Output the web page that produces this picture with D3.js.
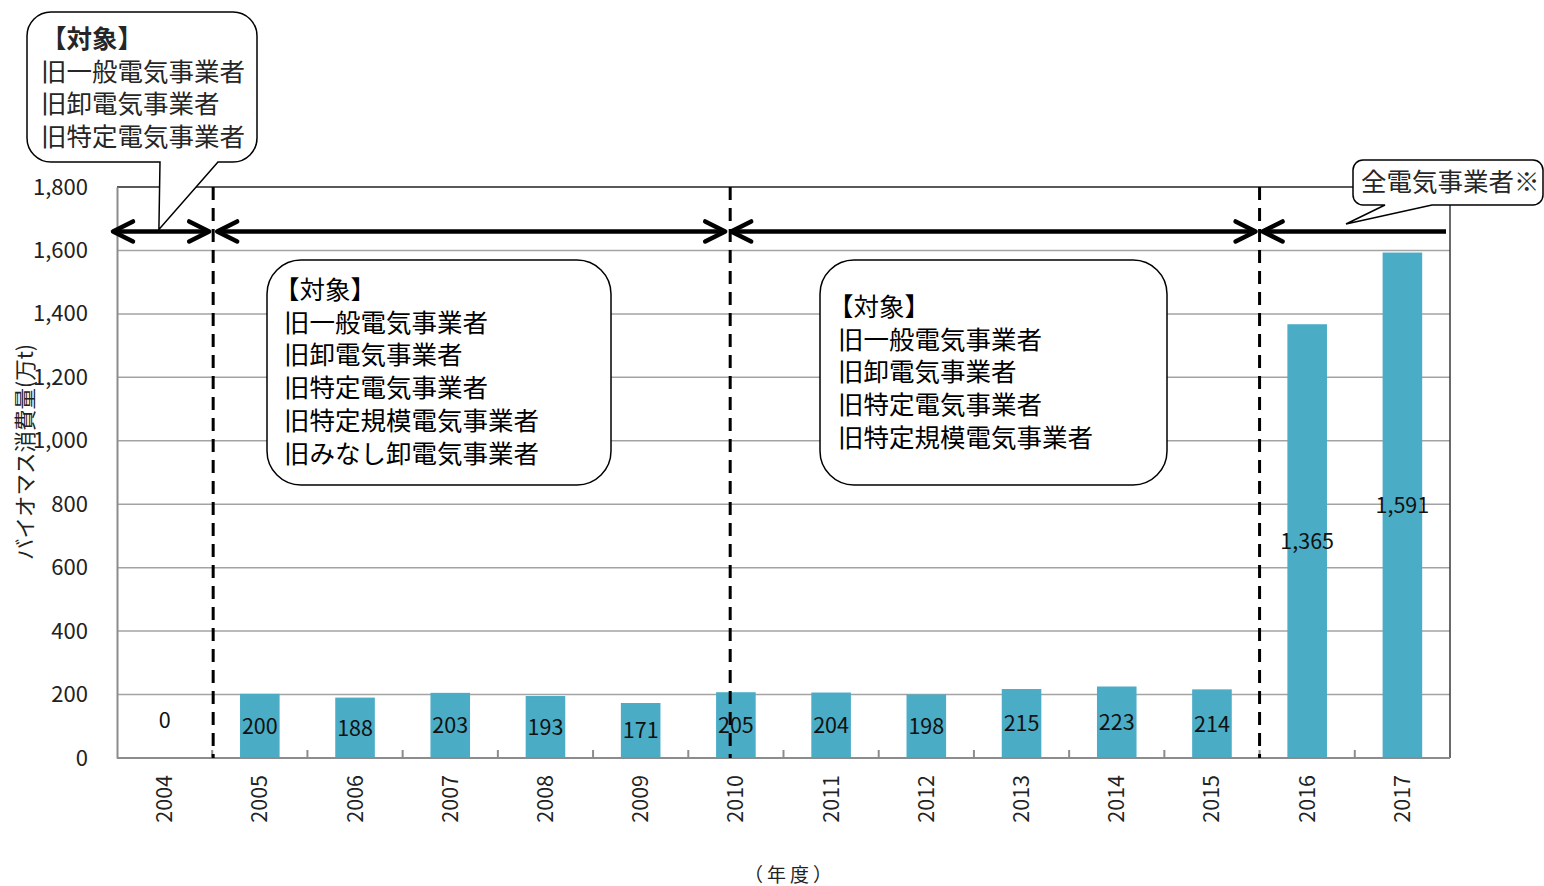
<!DOCTYPE html>
<html lang="ja">
<head>
<meta charset="utf-8">
<script src="https://cdn.jsdelivr.net/npm/d3@7/dist/d3.min.js"></script>
<style>
  html, body { margin: 0; padding: 0; background: #fff; }
  svg { display: block; font-family: "Noto Sans CJK JP", "Noto Sans", sans-serif; }
</style>
</head>
<body>
<svg id="chart" width="1544" height="886"></svg>
<script>
// ---- data ----
const years = ["2004","2005","2006","2007","2008","2009","2010","2011","2012","2013","2014","2015","2016","2017"];
const consumption = [0, 200, 188, 203, 193, 171, 205, 204, 198, 215, 223, 214, 1365, 1591];
const yTicks = [0, 200, 400, 600, 800, 1000, 1200, 1400, 1600, 1800];
const yTitle = "バイオマス消費量(万t)";
const xTitle = "（年度）";
// boundaries between reporting scopes, in category steps from the left edge of the plot
const periodBreaks = [1.01, 6.44, 12.0];
const scopeA = ["【対象】", "旧一般電気事業者", "旧卸電気事業者", "旧特定電気事業者"];
const scopeB = ["【対象】", "旧一般電気事業者", "旧卸電気事業者", "旧特定電気事業者", "旧特定規模電気事業者", "旧みなし卸電気事業者"];
const scopeC = ["【対象】", "旧一般電気事業者", "旧卸電気事業者", "旧特定電気事業者", "旧特定規模電気事業者"];
const scopeD = "全電気事業者※";

// ---- layout ----
const svg = d3.select("#chart");
const plotL = 117, plotR = 1450, plotT = 187, plotB = 758;
const barColor = "#4bacc6";
const gridColor = "#a3a3a3";
const axisColor = "#8c8c8c";

const x = d3.scaleBand().domain(years).range([plotL, plotR]).paddingInner(0.6).paddingOuter(0.3);
const y = d3.scaleLinear().domain([0, 1800]).range([plotB, plotT]);
const step = x.step();
const xAt = i => plotL + i * step;   // fractional category position -> px

const data = years.map((yr, i) => ({ yr, v: consumption[i] }));

// gridlines
svg.append("g").selectAll("line").data(yTicks.filter(t => t > 0)).join("line")
  .attr("x1", plotL).attr("x2", plotR)
  .attr("y1", d => y(d)).attr("y2", d => y(d))
  .attr("stroke", gridColor).attr("stroke-width", 1.5);

// plot frame (top and right)
svg.append("path")
  .attr("d", `M${plotL},${plotT} H${plotR} V${plotB}`)
  .attr("fill", "none").attr("stroke", "#3a3a3a").attr("stroke-width", 1.5);

// bars
svg.append("g").selectAll("rect").data(data).join("rect")
  .attr("x", d => x(d.yr)).attr("width", x.bandwidth())
  .attr("y", d => y(d.v)).attr("height", d => y(0) - y(d.v))
  .attr("fill", barColor).attr("stroke", barColor).attr("stroke-width", 1.5);

// y axis
const yAxis = svg.append("g").attr("transform", `translate(${plotL},0)`)
  .call(d3.axisLeft(y).tickValues(yTicks).tickSize(0).tickPadding(29).tickFormat(d3.format(",")));
yAxis.select(".domain").attr("stroke", axisColor).attr("stroke-width", 2);
yAxis.selectAll("text").attr("font-size", 22).attr("fill", "#222")
  .attr("font-family", "\"Noto Sans CJK JP\", sans-serif");

// x axis: ticks on band boundaries pointing into the plot
const xAxis = svg.append("g").attr("transform", `translate(0,${plotB})`);
xAxis.append("line").attr("x1", plotL).attr("x2", plotR)
  .attr("stroke", axisColor).attr("stroke-width", 2);
xAxis.selectAll("line.tk").data(d3.range(1, years.length)).join("line")
  .attr("class", "tk")
  .attr("x1", d => xAt(d)).attr("x2", d => xAt(d))
  .attr("y1", 0).attr("y2", -8)
  .attr("stroke", axisColor).attr("stroke-width", 2);
xAxis.selectAll("text").data(years).join("text")
  .attr("transform", d => `translate(${x(d) + x.bandwidth() / 2},17) rotate(-90)`)
  .attr("text-anchor", "end").attr("dy", "0.35em")
  .attr("font-size", 21.5).attr("fill", "#222")
  .text(d => d);

// value labels at the middle of each bar
svg.append("g").selectAll("text").data(data).join("text")
  .attr("x", d => x(d.yr) + x.bandwidth() / 2)
  .attr("y", d => d.v === 0 ? y(0) - 38 : y(d.v / 2))
  .attr("text-anchor", "middle").attr("dy", "0.35em")
  .attr("font-size", 21.5).attr("fill", "#111")
  .text(d => d3.format(",")(d.v));

// scope boundaries
svg.append("g").selectAll("line").data(periodBreaks).join("line")
  .attr("x1", d => xAt(d)).attr("x2", d => xAt(d))
  .attr("y1", plotT).attr("y2", plotB)
  .attr("stroke", "#000").attr("stroke-width", 3).attr("stroke-dasharray", "13,8");

// period arrows
const arrowY = y(1660);
const arrows = [
  { x1: xAt(-0.042), x2: xAt(periodBreaks[0]) - 4, l: true, r: true },
  { x1: xAt(periodBreaks[0]) + 4, x2: xAt(periodBreaks[1]) - 5, l: true, r: true },
  { x1: xAt(periodBreaks[1]) + 1, x2: xAt(periodBreaks[2]) - 4, l: true, r: true },
  { x1: xAt(periodBreaks[2]) + 3, x2: plotR - 4, l: true, r: false }
];
const head = (tx, dir) => `M${tx + dir * 20},${arrowY - 10} L${tx},${arrowY} L${tx + dir * 20},${arrowY + 10}`;
const ag = svg.append("g").attr("fill", "none").attr("stroke", "#000")
  .attr("stroke-width", 4.5).attr("stroke-linecap", "round").attr("stroke-linejoin", "round");
arrows.forEach(a => {
  ag.append("line").attr("x1", a.x1 + 2).attr("x2", a.x2 - (a.r ? 2 : 0))
    .attr("y1", arrowY).attr("y2", arrowY).attr("stroke-linecap", "butt");
  if (a.l) ag.append("path").attr("d", head(a.x1, 1));
  if (a.r) ag.append("path").attr("d", head(a.x2, -1));
});

// callout boxes
function calloutPath(bx, by, w, h, r, tail) {
  let p = `M${bx + r},${by} H${bx + w - r} A${r},${r} 0 0 1 ${bx + w},${by + r} V${by + h - r} A${r},${r} 0 0 1 ${bx + w - r},${by + h}`;
  if (tail) p += ` H${tail.b} L${tail.tx},${tail.ty} L${tail.a},${by + h}`;
  p += ` H${bx + r} A${r},${r} 0 0 1 ${bx},${by + h - r} V${by + r} A${r},${r} 0 0 1 ${bx + r},${by} Z`;
  return p;
}
function callout(box, lines, opt) {
  const g = svg.append("g");
  g.append("path").attr("d", calloutPath(box.x, box.y, box.w, box.h, box.r, box.tail))
    .attr("fill", "#fff").attr("stroke", "#000").attr("stroke-width", 1.5);
  lines.forEach((t, i) => {
    g.append("text")
      .attr("x", t.startsWith("【") ? opt.x + opt.headDx : opt.x)
      .attr("y", opt.y0 + i * opt.lh)
      .attr("font-size", opt.fs).attr("fill", opt.color)
      .attr("font-weight", (opt.boldHead && i === 0) ? 700 : 400)
      .text(t);
  });
}

callout({ x: 27, y: 12, w: 230, h: 150, r: 24, tail: { a: 160, b: 218, tx: xAt(0.44), ty: arrowY - 2 } },
  scopeA, { x: 41, headDx: 0, y0: 48, lh: 32.5, fs: 25.5, color: "#262626", boldHead: true });
callout({ x: 267, y: 260, w: 344, h: 225, r: 34 },
  scopeB, { x: 284, headDx: -10, y0: 299, lh: 32.7, fs: 25.5, color: "#000" });
callout({ x: 820, y: 260, w: 347, h: 225, r: 34 },
  scopeC, { x: 838, headDx: -10, y0: 316, lh: 32.7, fs: 25.5, color: "#000" });
callout({ x: 1353, y: 160, w: 190, h: 45, r: 10, tail: { a: 1385, b: 1432, tx: 1346, ty: 224 } },
  [scopeD], { x: 1361, headDx: 0, y0: 191, lh: 0, fs: 25.5, color: "#262626" });

// axis titles
svg.append("text")
  .attr("transform", "translate(25,452) rotate(-90)")
  .attr("text-anchor", "middle").attr("dy", "0.35em")
  .attr("font-size", 21.5).attr("fill", "#222")
  .text(yTitle);
svg.append("text")
  .attr("x", 790).attr("y", 882)
  .attr("text-anchor", "middle")
  .attr("font-size", 19).attr("letter-spacing", 4).attr("fill", "#222")
  .text(xTitle);
</script>
</body>
</html>
